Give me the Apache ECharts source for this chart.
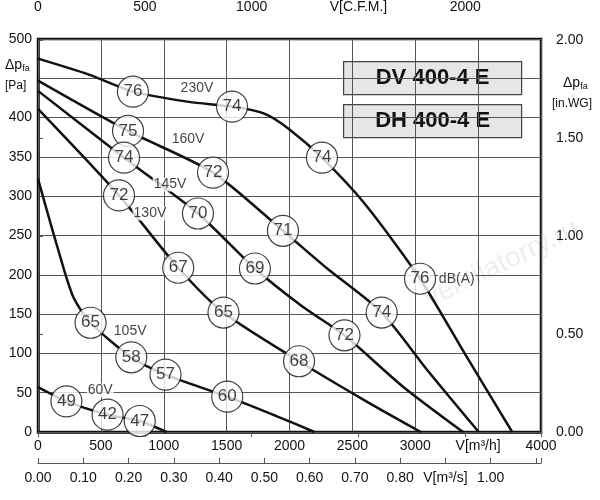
<!DOCTYPE html>
<html><head><meta charset="utf-8">
<script src="https://cdn.jsdelivr.net/npm/echarts@6/dist/echarts.min.js"></script>
<style>html,body{margin:0;background:#fff}#main{width:600px;height:500px}</style>
</head><body><div id="main"></div>
<script>
// fan curves, [V m3/h, dp Pa]
var curve230 = [[0,475],[400,455],[755,433],[1200,420],[1543,414],[1800,405],[2000,385],[2258,349],[2600,290],[3038,195],[3400,98],[3771,0]];
var curve160 = [[0,447],[716,383],[1392,330],[1948,256],[2300,208],[2733,152],[3100,78],[3505,0]];
var curve145 = [[0,434],[684,349],[1272,278],[1725,208],[2100,160],[2437,123],[2900,58],[3380,0]];
var curve130 = [[0,411],[644,301],[1115,209],[1475,152],[2076,90],[2600,40],[3044,0]];
var curve105 = [[0,322],[153,236],[280,172],[418,139],[742,95],[1014,73],[1505,45],[1900,20],[2198,0]];
var curve60  = [[0,57],[226,39],[553,22],[809,14],[1023,0]];
// noise level bubbles [V, dp, dB]
var dbMarks = [[755,433,'76'],[1543,414,'74'],[2258,349,'74'],[3038,195,'76'],
  [716,383,'75'],[1392,330,'72'],[1948,256,'71'],[2733,152,'74'],
  [684,349,'74'],[1272,278,'70'],[1725,208,'69'],[2437,123,'72'],
  [644,301,'72'],[1115,209,'67'],[1475,152,'65'],[2076,90,'68'],
  [418,139,'65'],[742,95,'58'],[1014,73,'57'],[1505,45,'60'],
  [226,39,'49'],[553,22,'42'],[809,14,'47']];
var voltLabels = [[1264,437,'230V'],[1193,372,'160V'],[1050,315,'145V'],[890,278,'130V'],[733,128,'105V'],[495,53,'60V'],[3330,194,'dB(A)']];
var models = ['DV 400-4 E','DH 400-4 E'];

var M3H_PER_CFM = 1.699, M3H_PER_M3S = 3600, PA_PER_INWG = 249;
var font = 'Liberation Sans, Arial, sans-serif';

var myChart = echarts.init(document.getElementById('main'));
function line(d){ return {type:'line',data:d,xAxisIndex:0,yAxisIndex:0,showSymbol:false,smooth:0.25,lineStyle:{color:'#111',width:2.5},z:3}; }
var option = {
  animation:false,
  textStyle:{fontFamily:font},
  grid:{left:38,right:59,top:38,bottom:68,show:true,borderColor:'#111',borderWidth:2.5},
  xAxis:[
    {type:'value',min:0,max:4000,interval:500,position:'bottom',
     axisLine:{lineStyle:{color:'#111',width:2.5}},axisTick:{show:false},
     axisLabel:{color:'#111',fontSize:14,margin:7,formatter:function(v){return v==3500?'V[m³/h]':v;}},
     splitLine:{lineStyle:{color:'#555',width:1}}},
    {type:'value',min:0,max:4000/M3H_PER_CFM,interval:500,position:'top',offset:21,
     axisLine:{lineStyle:{color:'#555'}},axisTick:{inside:true,length:5,lineStyle:{color:'#555'}},
     axisLabel:{color:'#111',fontSize:14,margin:4,formatter:function(v){return v==1500?'V[C.F.M.]':(v>2000?'':v);}},
     splitLine:{show:false}},
    {type:'value',min:0,max:4000/M3H_PER_M3S,interval:0.1,position:'bottom',offset:31,
     axisLine:{lineStyle:{color:'#555'}},axisTick:{inside:true,length:5,lineStyle:{color:'#555'}},
     axisLabel:{color:'#111',fontSize:14,margin:8,formatter:function(v){v=Math.round(v*100)/100;return v==0.9?'V[m³/s]':(v>1?'':v.toFixed(2));}},
     splitLine:{show:false}}
  ],
  yAxis:[
    {type:'value',min:0,max:500,interval:50,
     axisLine:{lineStyle:{color:'#111',width:2.5}},axisTick:{show:false},
     axisLabel:{color:'#111',fontSize:14,margin:6,formatter:function(v){return v==450?'':v;}},
     splitLine:{lineStyle:{color:'#555',width:1}}},
    {type:'value',min:0,max:500/PA_PER_INWG,interval:0.5,position:'right',offset:12,
     axisLine:{show:true,lineStyle:{color:'#555'}},axisTick:{show:true,length:5,lineStyle:{color:'#555'}},
     axisLabel:{color:'#111',fontSize:14,margin:3,formatter:function(v){return v.toFixed(2);}},
     splitLine:{show:false}}
  ],
  series:[
    line(curve230),line(curve160),line(curve145),line(curve130),line(curve105),line(curve60),
    {type:'scatter',data:dbMarks,symbol:'circle',symbolSize:31,z:5,
     itemStyle:{color:'#fff',borderColor:'#111',borderWidth:1.2},
     label:{show:true,position:'inside',color:'#111',fontSize:17,formatter:function(p){return p.value[2];}}},
    {type:'scatter',data:voltLabels,symbolSize:0,z:6,
     label:{show:true,position:'inside',color:'#111',fontSize:14,backgroundColor:'#fff',padding:[0,1],formatter:function(p){return p.value[2];}}}
  ],
  graphic:[
    {type:'text',left:420,top:215,rotation:0.45,z:1,style:{text:'ventilatorry.ru',font:'28px '+font,fill:'rgba(0,0,0,0.07)'}},
    {type:'group',left:343,top:61,children:models.map(function(m,i){return {type:'rect',shape:{x:0,y:i*43,width:178,height:33},style:{fill:'#e6e6e6',stroke:'#444',lineWidth:1.2},
      textContent:{style:{text:m,font:'bold 22px '+font,fill:'#111'}},textConfig:{position:'inside'}};})},
    {type:'text',left:5,top:58,style:{rich:{a:{fontSize:14,fill:'#111'},s:{fontSize:9,fill:'#111',verticalAlign:'bottom',padding:[8,0,0,0]}},text:'{a|Δp}{s|fa}'}},
    {type:'text',left:5,top:80,style:{text:'[Pa]',font:'12px '+font,fill:'#111'}},
    {type:'text',left:563,top:76,style:{rich:{a:{fontSize:14,fill:'#111'},s:{fontSize:9,fill:'#111',padding:[8,0,0,0]}},text:'{a|Δp}{s|fa}'}},
    {type:'text',left:552,top:98,style:{text:'[in.WG]',font:'12px '+font,fill:'#111'}}
  ]
};
myChart.setOption(option);
</script></body></html>
